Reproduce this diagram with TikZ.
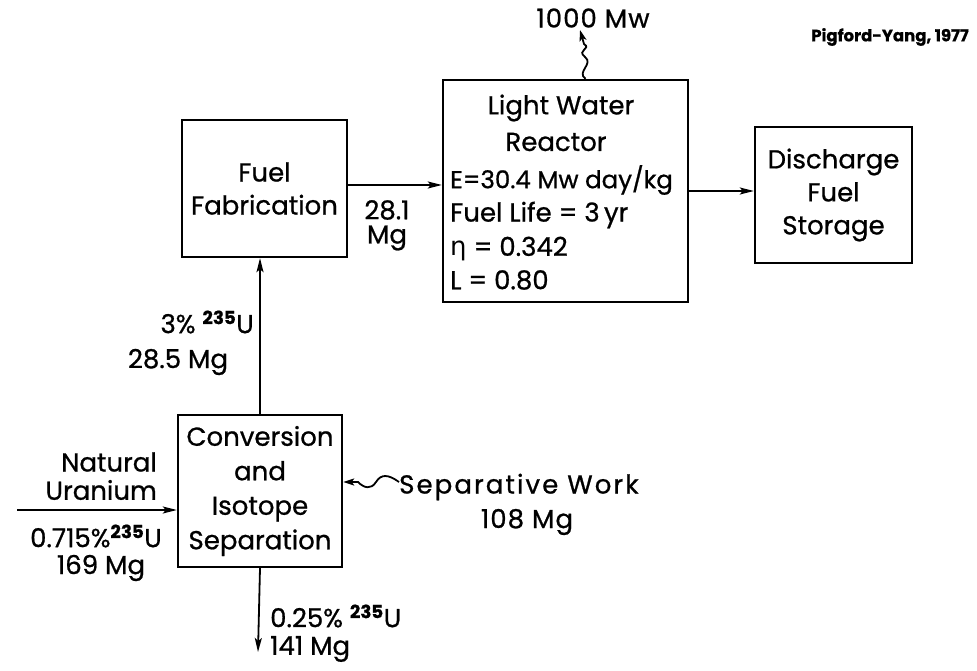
\documentclass[tikz,border=0pt]{standalone}
\usepackage{fontspec}
\setmainfont{Poppins}[FakeBold=0.8]
\newfontfamily\grkfont{DejaVu Sans}
\usetikzlibrary{arrows.meta}
\newcommand\isoU{\textsuperscript{\bfseries 235}U}
\tikzset{
  boxnode/.style={draw, line width=2.4pt, rectangle, inner sep=0pt, align=center, font=\fontsize{26}{33}\selectfont},
  lbl/.style={inner sep=0pt, font=\fontsize{26}{30}\selectfont},
  flow/.style={line width=1.8pt, -{Stealth[length=14pt,width=7pt,inset=3pt]}},
  wave/.style={line width=1.8pt, -{Stealth[length=11pt,width=7pt,inset=2.5pt]}}
}
\begin{document}
\begin{tikzpicture}[x=1pt,y=-1pt]
\useasboundingbox (0,0) rectangle (977,671);
% boxes
\node[boxnode, minimum width=165pt, minimum height=137pt] (FF) at (264.5,188.5) {Fuel\\Fabrication};
\node[boxnode, minimum width=245pt, minimum height=222pt] (LWR) at (565.5,191) {};
\node[boxnode, minimum width=157pt, minimum height=136pt] (DFS) at (833.5,195) {Discharge\\Fuel\\Storage};
\node[boxnode, minimum width=164pt, minimum height=152pt, font=\fontsize{26}{34.5}\selectfont] (CIS) at (260,491) {Conversion\\and\\Isotope\\Separation};
% reactor texts
\node[lbl] (lw1) at (561,108) {Light Water};
\node[lbl] (lw2) at (556,142) {Reactor};
\node[lbl, anchor=west, font=\fontsize{24.5}{30}\selectfont] (lw3) at (450,180) {E=30.4 Mw day/kg};
\node[lbl, anchor=west] (lw4) at (450,215) {Fuel Life = 3\,yr};
\node[lbl, anchor=west] (lw5) at (450,249) {{\grkfont η} = 0.342};
\node[lbl, anchor=west] (lw6) at (450,280) {L = 0.80};
% labels
\node[lbl] (mw) at (593,18) {\addfontfeature{LetterSpace=4}1000 Mw};
\node[inner sep=0pt, font=\fontsize{16.5}{18}\selectfont\bfseries] (src) at (890,37) {Pigford-Yang, 1977};
\node[lbl] (m281a) at (387,210) {28.1};
\node[lbl] (m281b) at (387,238) {Mg};
\node[lbl, anchor=east] (e3a) at (254,322) {3\% \isoU};
\node[lbl] (e3b) at (178,362) {28.5 Mg};
\node[lbl, anchor=east] (nu1) at (157,462) {Natural};
\node[lbl, anchor=east] (nu2) at (157,490) {Uranium};
\node[lbl, anchor=east] (nu3) at (162,536) {0.715\%\isoU};
\node[lbl] (nu4) at (101,568) {169 Mg};
\node[lbl, anchor=west] (tl1) at (270,616) {0.25\% \isoU};
\node[lbl, anchor=west] (tl2) at (270,649) {141 Mg};
\node[lbl, anchor=west] (sw1) at (399,487) {\addfontfeature{LetterSpace=8}Separative Work};
\node[lbl] (sw2) at (527,522) {\addfontfeature{LetterSpace=4}108 Mg};
% coordinates
\coordinate (nuin) at (17,510);
\coordinate (tailout) at (258,652);
\coordinate (swstart) at (399,482);
\coordinate (mwtip) at (580,30);
\coordinate (ffout) at ([yshift=3.5pt]FF.east);
\coordinate (mwbase) at ([xshift=20pt]LWR.north);
% connectors
\draw[flow] (CIS.north) -- (CIS.north |- FF.south);
\draw[flow] (ffout) -- (ffout -| LWR.west);
\draw[flow] (LWR.east) -- (LWR.east -| DFS.west);
\draw[flow] (nuin) -- (nuin -| CIS.west);
\draw[flow] (CIS.south) -- (tailout);
\draw[wave] (swstart) .. controls (388,474) and (381,474) .. (376,482)
   .. controls (371,490) and (364,488) .. (358,482) -- (CIS.east |- swstart);
\draw[wave] (mwbase) .. controls (576,72) and (594,64) .. (585,57)
   .. controls (576,50) and (592,49) .. (584,44) -- (mwtip);
\end{tikzpicture}
\end{document}
